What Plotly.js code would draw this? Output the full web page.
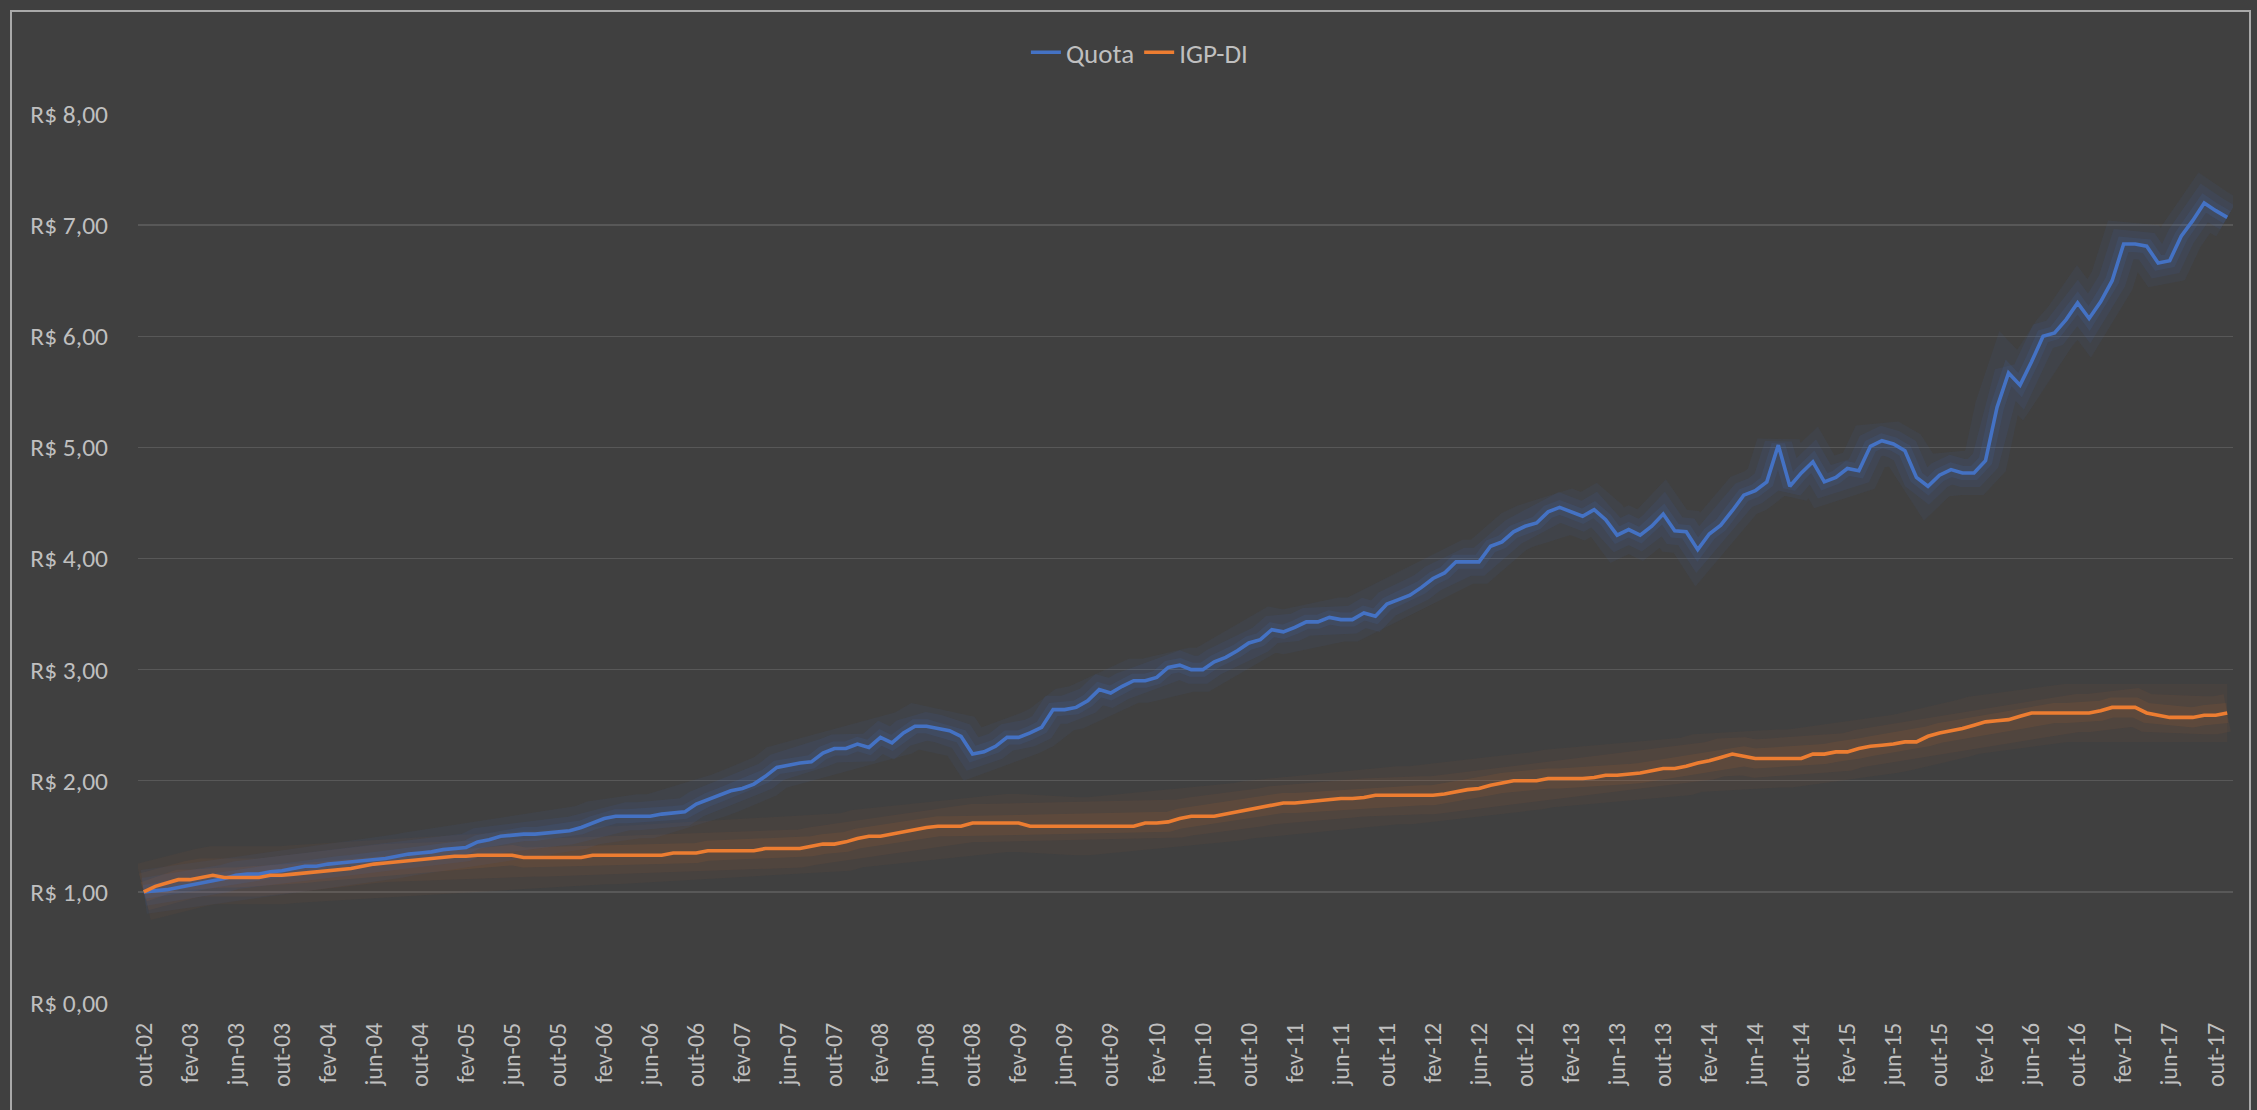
<!DOCTYPE html>
<html>
<head>
<meta charset="utf-8">
<script src="https://cdn.plot.ly/plotly-3.0.1.min.js"></script>
<style>
html,body{margin:0;padding:0;background:#404040;overflow:hidden;}
#chart{position:absolute;left:0;top:0;width:2257px;height:1110px;}
#frame{position:absolute;left:10px;top:10px;width:2241px;height:1200px;border:2px solid #a9a9a9;box-sizing:border-box;pointer-events:none;}
</style>
</head>
<body>
<div id="chart"></div>
<div id="frame"></div>
<script>
// Month names (pt-BR) used for the category labels, starting out-02
const monthNames = ['jan','fev','mar','abr','mai','jun','jul','ago','set','out','nov','dez'];
const startMonth = 9;   // out
const startYear = 2002;
const nPoints = 182;    // out-02 .. nov-17

const categories = [];
for (let k = 0; k < nPoints; k++) {
  const m = (startMonth + k) % 12;
  const y = startYear + Math.floor((startMonth + k) / 12);
  categories.push(monthNames[m] + '-' + String(y % 100).padStart(2, '0'));
}
const tickLabels = categories.filter((c, k) => k % 4 === 0);

const quota = [
  1.00, 1.01, 1.02, 1.04, 1.06, 1.08, 1.10, 1.12, 1.15, 1.16,
  1.16, 1.18, 1.19, 1.21, 1.23, 1.23, 1.25, 1.26, 1.27, 1.28,
  1.29, 1.30, 1.32, 1.34, 1.35, 1.36, 1.38, 1.39, 1.40, 1.45,
  1.47, 1.50, 1.51, 1.52, 1.52, 1.53, 1.54, 1.55, 1.58, 1.62,
  1.66, 1.68, 1.68, 1.68, 1.68, 1.70, 1.71, 1.72, 1.79, 1.83,
  1.87, 1.91, 1.93, 1.97, 2.04, 2.12, 2.14, 2.16, 2.17, 2.25,
  2.29, 2.29, 2.33, 2.30, 2.39, 2.34, 2.43, 2.49, 2.49, 2.47,
  2.45, 2.40, 2.24, 2.26, 2.31, 2.39, 2.39, 2.43, 2.48, 2.64,
  2.64, 2.66, 2.72, 2.82, 2.79, 2.85, 2.90, 2.90, 2.93, 3.02,
  3.04, 3.00, 3.00, 3.07, 3.11, 3.17, 3.24, 3.27, 3.36, 3.34,
  3.38, 3.43, 3.43, 3.47, 3.45, 3.45, 3.51, 3.48, 3.59, 3.63,
  3.67, 3.74, 3.82, 3.87, 3.97, 3.97, 3.97, 4.11, 4.15, 4.24,
  4.29, 4.32, 4.42, 4.46, 4.42, 4.38, 4.44, 4.35, 4.21, 4.26,
  4.21, 4.29, 4.40, 4.25, 4.24, 4.08, 4.22, 4.30, 4.43, 4.57,
  4.61, 4.69, 5.02, 4.65, 4.77, 4.87, 4.69, 4.73, 4.81, 4.79,
  5.01, 5.06, 5.03, 4.97, 4.73, 4.65, 4.75, 4.80, 4.77, 4.77,
  4.88, 5.36, 5.67, 5.56, 5.77, 6.00, 6.03, 6.15, 6.30, 6.16,
  6.31, 6.50, 6.83, 6.83, 6.81, 6.66, 6.68, 6.90, 7.04, 7.20,
  7.13, 7.07
];

const igpdi = [
  1.00, 1.05, 1.08, 1.11, 1.11, 1.13, 1.15, 1.13, 1.13, 1.13,
  1.13, 1.15, 1.15, 1.16, 1.17, 1.18, 1.19, 1.20, 1.21, 1.23,
  1.25, 1.26, 1.27, 1.28, 1.29, 1.30, 1.31, 1.32, 1.32, 1.33,
  1.33, 1.33, 1.33, 1.31, 1.31, 1.31, 1.31, 1.31, 1.31, 1.33,
  1.33, 1.33, 1.33, 1.33, 1.33, 1.33, 1.35, 1.35, 1.35, 1.37,
  1.37, 1.37, 1.37, 1.37, 1.39, 1.39, 1.39, 1.39, 1.41, 1.43,
  1.43, 1.45, 1.48, 1.50, 1.50, 1.52, 1.54, 1.56, 1.58, 1.59,
  1.59, 1.59, 1.62, 1.62, 1.62, 1.62, 1.62, 1.59, 1.59, 1.59,
  1.59, 1.59, 1.59, 1.59, 1.59, 1.59, 1.59, 1.62, 1.62, 1.63,
  1.66, 1.68, 1.68, 1.68, 1.70, 1.72, 1.74, 1.76, 1.78, 1.80,
  1.80, 1.81, 1.82, 1.83, 1.84, 1.84, 1.85, 1.87, 1.87, 1.87,
  1.87, 1.87, 1.87, 1.88, 1.90, 1.92, 1.93, 1.96, 1.98, 2.00,
  2.00, 2.00, 2.02, 2.02, 2.02, 2.02, 2.03, 2.05, 2.05, 2.06,
  2.07, 2.09, 2.11, 2.11, 2.13, 2.16, 2.18, 2.21, 2.24, 2.22,
  2.20, 2.20, 2.20, 2.20, 2.20, 2.24, 2.24, 2.26, 2.26, 2.29,
  2.31, 2.32, 2.33, 2.35, 2.35, 2.40, 2.43, 2.45, 2.47, 2.50,
  2.53, 2.54, 2.55, 2.58, 2.61, 2.61, 2.61, 2.61, 2.61, 2.61,
  2.63, 2.66, 2.66, 2.66, 2.61, 2.59, 2.57, 2.57, 2.57, 2.59,
  2.59, 2.61
];

const seriesNames = ['Quota', 'IGP-DI'];
const blue = '#4472C4';
const orange = '#ED7D31';
const FONT = 'Carlito, Calibri, Lato, sans-serif';
const TXT = '#bfbfbf';

function glow(y, rgb, w, a) {
  return {
    x: categories, y: y, type: 'scatter', mode: 'lines',
    line: {color: 'rgba(' + rgb + ',' + a + ')', width: w},
    showlegend: false, hoverinfo: 'skip'
  };
}

const traces = [
  glow(igpdi, '237,125,49', 58, 0.045),
  glow(igpdi, '237,125,49', 38, 0.06),
  glow(igpdi, '237,125,49', 20, 0.09),
  glow(quota, '68,114,196', 44, 0.07),
  glow(quota, '68,114,196', 28, 0.09),
  glow(quota, '68,114,196', 14, 0.12),
  {x: categories, y: quota, type: 'scatter', mode: 'lines', name: seriesNames[0],
   line: {color: blue, width: 3.6}},
  {x: categories, y: igpdi, type: 'scatter', mode: 'lines', name: seriesNames[1],
   line: {color: orange, width: 3.6}}
];

const layout = {
  width: 2257, height: 1110,
  margin: {l: 138, r: 24, t: 114, b: 107},
  paper_bgcolor: 'rgba(0,0,0,0)',
  plot_bgcolor: 'rgba(0,0,0,0)',
  separators: ',.',
  font: {family: FONT, color: TXT, size: 24},
  showlegend: true,
  legend: {
    orientation: 'h', x: 0.478, xanchor: 'center', y: 1.069, yanchor: 'middle',
    font: {family: FONT, color: TXT, size: 27}, bgcolor: 'rgba(0,0,0,0)',
    traceorder: 'normal', itemwidth: 30
  },
  xaxis: {
    type: 'category', range: [-0.5, nPoints - 0.5],
    tickmode: 'array', tickvals: tickLabels, ticktext: tickLabels,
    tickangle: -90, showgrid: false, showline: false, zeroline: false, ticks: '',
    ticklabelstandoff: 14,
    tickfont: {family: FONT, color: TXT, size: 24}
  },
  yaxis: {
    range: [0, 8], tick0: 0, dtick: 1,
    tickprefix: 'R$ ', tickformat: '.2f',
    showgrid: true, gridcolor: '#585858', gridwidth: 1.3,
    zeroline: true, zerolinecolor: '#404040', showline: false, ticks: '',
    ticklabelstandoff: 29,
    tickfont: {family: FONT, color: TXT, size: 25.5}
  }
};

Plotly.newPlot('chart', traces, layout, {staticPlot: true, displayModeBar: false});
</script>
</body>
</html>
